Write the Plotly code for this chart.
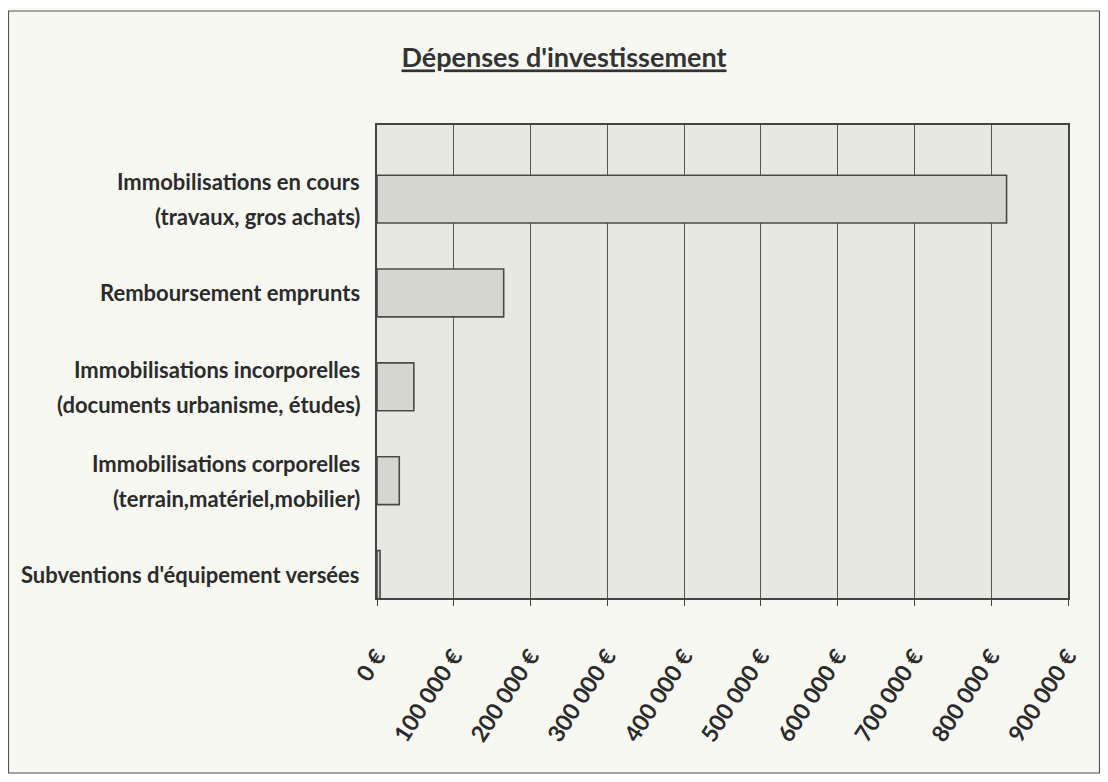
import plotly.graph_objects as go

categories = [
    "Immobilisations en cours<br>(travaux, gros achats)",
    "Remboursement emprunts",
    "Immobilisations incorporelles<br>(documents urbanisme, études)",
    "Immobilisations corporelles<br>(terrain,matériel,mobilier)",
    "Subventions d'équipement versées",
]
values = [820000, 165000, 48000, 29000, 4000]
tick_vals = [0, 100000, 200000, 300000, 400000, 500000, 600000, 700000, 800000, 900000]
tick_text = ["0 €", "100 000 €", "200 000 €", "300 000 €", "400 000 €",
             "500 000 €", "600 000 €", "700 000 €", "800 000 €", "900 000 €"]

# page has an 8px body margin: figure coordinates = page coordinates - 8
W, H = 1092, 766
L, R, T, B = 369, 1060, 117, 590
FONT = "Lato"
TXT = "#2b2b2b"

fig = go.Figure(go.Bar(
    x=values, y=categories, orientation="h", width=0.51,
    marker=dict(color="#d6d6d0", line=dict(color="#4a4a4a", width=1.6)),
))

annotations = []
for c in categories:
    lines = c.split("<br>")
    n = len(lines)
    for i, ln in enumerate(lines):
        shift = (n - 1) / 2 * 35 - i * 35
        annotations.append(dict(
            x=-15 / (R - L), y=c, xref="paper", yref="y", text=ln,
            showarrow=False, xanchor="right", yanchor="middle", yshift=shift,
            font=dict(family=FONT, size=22, color=TXT, weight="bold")))

pw, ph = R - L, B - T
shapes = [dict(type="rect", xref="paper", yref="paper",
               x0=(0.5 - L) / pw, x1=(W - 0.5 - L) / pw,
               y0=(B - (H - 1)) / ph, y1=(B - 3) / ph,
               line=dict(color="#555", width=1.2), layer="below")]

fig.update_layout(
    width=W, height=H,
    margin=dict(l=L, r=W - R, t=T, b=H - B),
    paper_bgcolor="#f8f8f3",
    plot_bgcolor="#e8e8e2",
    showlegend=False,
    title=dict(text="Dépenses d'investissement", x=556 / W, xanchor="center",
               y=1 - 50 / H, yanchor="middle",
               font=dict(family=FONT, size=27, color="#333", weight="bold",
                         lineposition="under")),
    xaxis=dict(range=[0, 900000], tickvals=tick_vals, ticktext=tick_text,
               tickangle=-57, showgrid=True, gridcolor="#555", gridwidth=1.4,
               showline=True, linecolor="#444", linewidth=1.6, mirror=True,
               ticks="outside", ticklen=6, tickcolor="#444",
               ticklabelstandoff=28,
               tickfont=dict(family=FONT, size=23, color=TXT, weight="bold"),
               zeroline=False),
    yaxis=dict(categoryorder="array", categoryarray=categories[::-1],
               range=[-0.25, 4.79],
               showticklabels=False, showgrid=False, showline=True,
               linecolor="#444", linewidth=1.6, mirror=True, ticks=""),
    annotations=annotations,
    shapes=shapes,
)

fig.write_html("out.html")
